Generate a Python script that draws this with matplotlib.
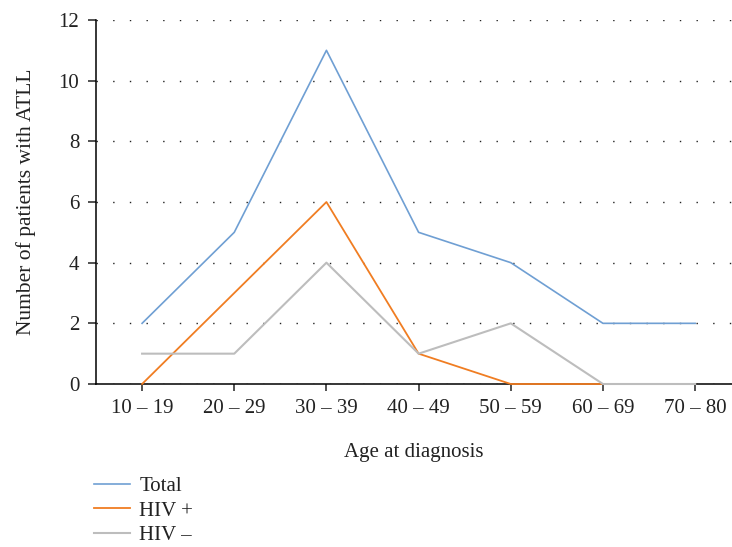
import matplotlib
matplotlib.use("Agg")
import matplotlib.pyplot as plt

plt.rcParams['font.family'] = ['Liberation Serif', 'DejaVu Serif']

categories = ["10 – 19", "20 – 29", "30 – 39", "40 – 49", "50 – 59", "60 – 69", "70 – 80"]
total = [2, 5, 11, 5, 4, 2, 2]
hiv_pos = [0, 3, 6, 1, 0, 0, 0]
hiv_neg = [1, 1, 4, 1, 2, 0, 0]
yticks = [0, 2, 4, 6, 8, 10, 12]

fig = plt.figure(figsize=(7.32, 5.47), dpi=100)
ax = fig.add_axes([96/732, 1-384/547, (732-96)/732, (384-20)/547])

x = list(range(len(categories)))
l1, = ax.plot(x, total, color='#6f9fd3', lw=1.2, label='Total', clip_on=False, zorder=4)
l2, = ax.plot(x, hiv_pos, color='#f07d22', lw=1.3, label='HIV +', clip_on=False, zorder=4)
l3, = ax.plot(x, hiv_neg, color='#bdbdbd', lw=1.5, label='HIV –', clip_on=False, zorder=5)

ax.set_xlim(-0.5, 6.4)
ax.set_ylim(0, 12)
ax.set_xticks(x)
ax.set_xticklabels(categories, fontsize=15)
ax.set_yticks(yticks)
ax.set_yticklabels([str(v) for v in yticks], fontsize=15)
ax.yaxis.grid(True, linestyle=(0, (1, 11)), color='#222222', lw=1)
ax.set_axisbelow(True)
for s in ['top', 'right']:
    ax.spines[s].set_visible(False)
for s in ['left', 'bottom']:
    ax.spines[s].set_linewidth(1.1)
    ax.spines[s].set_zorder(3)
ax.tick_params(axis='y', length=6, width=1.1, pad=6, colors='#222222')
ax.tick_params(axis='x', length=5, width=1.1, pad=6, colors='#222222')
ax.set_ylabel('Number of patients with ATLL', fontsize=15.5, labelpad=16, color='#222222')
ax.set_xlabel('Age at diagnosis', fontsize=15, labelpad=18, color='#222222')

fig.legend(handles=[l1, l2, l3], loc='upper left', bbox_to_anchor=(86/732, 1-468/547),
           frameon=False, fontsize=15, handlelength=1.7, handletextpad=0.45,
           labelspacing=0.25, borderaxespad=0, labelcolor='#222222')

fig.savefig('out.png', dpi=100)
